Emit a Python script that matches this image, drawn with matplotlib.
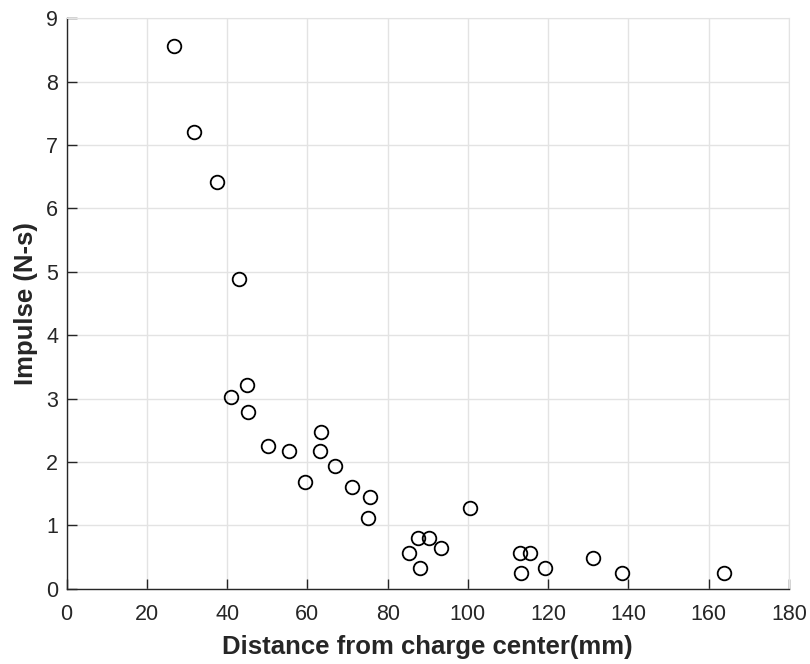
import matplotlib
matplotlib.use('Agg')
import matplotlib.pyplot as plt

# distance from charge center (mm) and measured impulse (N-s)
distance = [26.7, 31.7, 37.5, 42.9, 40.9, 44.9, 45.3, 50.3, 55.3, 63.5,
            63.2, 66.9, 59.5, 71.1, 75.6, 75.2, 100.6, 87.6, 90.2, 93.4,
            85.3, 88.0, 113.0, 115.5, 113.3, 119.2, 131.2, 138.3, 163.9]
impulse = [8.56, 7.20, 6.41, 4.89, 3.03, 3.21, 2.79, 2.25, 2.17, 2.48,
           2.17, 1.93, 1.69, 1.61, 1.44, 1.12, 1.27, 0.80, 0.80, 0.64,
           0.56, 0.33, 0.56, 0.56, 0.25, 0.33, 0.48, 0.25, 0.25]

x_ticks = list(range(0, 181, 20))
y_ticks = list(range(0, 10))

plt.rcParams['font.family'] = ['Liberation Sans', 'DejaVu Sans']

fig = plt.figure(figsize=(8.1, 6.64), dpi=100)
ax = fig.add_axes([0.0823, 0.1134, 0.8917, 0.859])

ax.plot(distance, impulse, linestyle='none', marker='o', ms=9.8,
        mfc='none', mec='black', mew=1.3, zorder=3)

ax.set_xlim(0, 180)
ax.set_ylim(0, 9)
ax.set_xticks(x_ticks)
ax.set_yticks(y_ticks)
ax.grid(True, color='#e3e3e3', linewidth=1.0)
ax.set_axisbelow(True)

dark = '#262626'
for side in ['top', 'right']:
    ax.spines[side].set_color('#e3e3e3')
for side in ['left', 'bottom']:
    ax.spines[side].set_color(dark)
    ax.spines[side].set_linewidth(1.0)

ax.tick_params(direction='in', length=7, width=1, color=dark,
               labelcolor=dark, labelsize=15.5)
ax.tick_params(axis='x', pad=11)
ax.tick_params(axis='y', pad=6)

ax.set_xlabel('Distance from charge center(mm)', fontsize=18.5, fontweight='bold',
              color=dark, labelpad=7)
ax.set_ylabel('Impulse (N-s)', fontsize=18.5, fontweight='bold', color=dark,
              labelpad=6)

fig.savefig('out.png', dpi=100)
